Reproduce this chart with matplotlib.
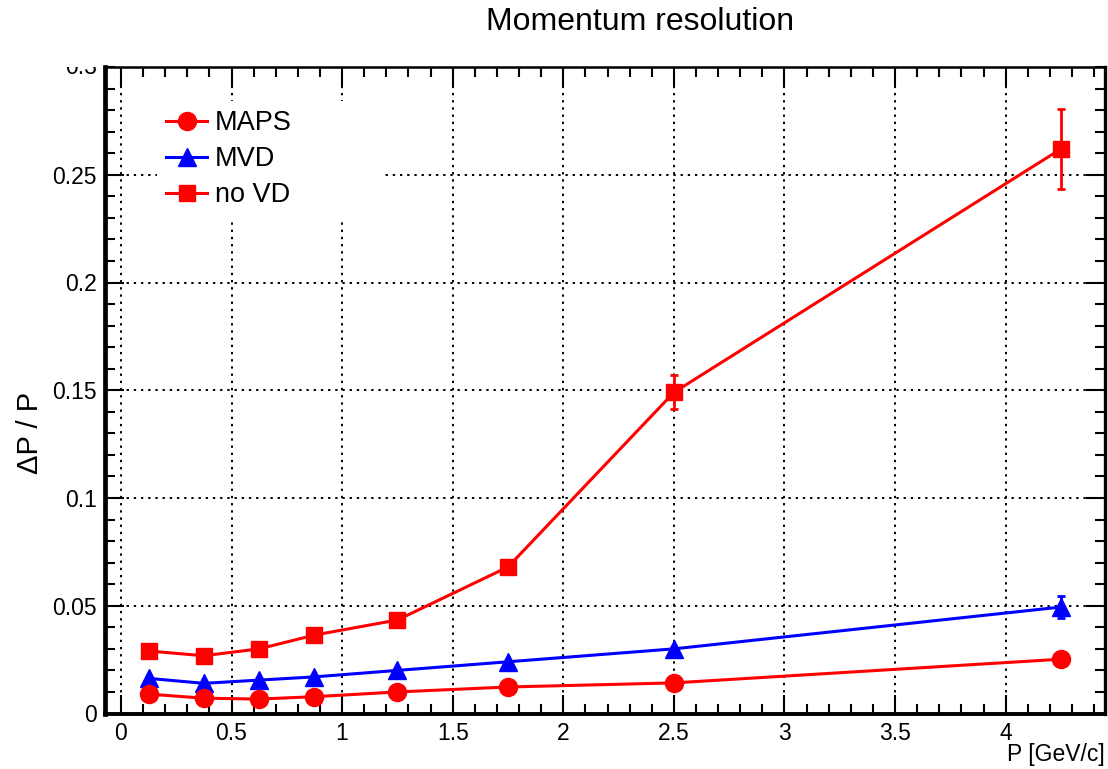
import matplotlib
matplotlib.use("Agg")
import matplotlib.pyplot as plt
from matplotlib.ticker import MultipleLocator, FuncFormatter
from matplotlib.transforms import Bbox, TransformedBbox

plt.rcParams['font.family'] = ['Liberation Sans', 'DejaVu Sans']

# ---- data ----
p_values = [0.125, 0.375, 0.625, 0.875, 1.25, 1.75, 2.5, 4.25]
maps_res = [0.0090, 0.0071, 0.0067, 0.0078, 0.0100, 0.0123, 0.0142, 0.0252]
maps_err = [0.0, 0.0, 0.0, 0.0, 0.0, 0.0, 0.0, 0.0005]
mvd_res = [0.0163, 0.0140, 0.0155, 0.0170, 0.0200, 0.0240, 0.0300, 0.0494]
mvd_err = [0.0, 0.0, 0.0, 0.0, 0.0, 0.0, 0.0005, 0.0050]
novd_res = [0.0290, 0.0268, 0.0300, 0.0364, 0.0434, 0.0680, 0.1490, 0.2620]
novd_err = [0.0005, 0.0005, 0.0005, 0.0005, 0.0008, 0.0012, 0.0079, 0.0187]
series_labels = ["MAPS", "MVD", "no VD"]

title_text = "Momentum resolution"
xlabel_text = "P [GeV/c]"
ylabel_text = "\u0394P / P"

W, H = 1108, 769
fig = plt.figure(figsize=(W / 100, H / 100), dpi=100)
ax = fig.add_axes([105 / W, 1 - 713.5 / H, 1000 / W, 646.5 / H])

ax.set_xlim(-0.072, 4.449)
ax.set_ylim(0, 0.3)

# grid
ax.set_axisbelow(True)
ax.grid(True, which='major', color='black', linestyle=(0, (1.2, 2.5)), linewidth=1.4)

common = dict(linewidth=2.2, elinewidth=2.0, capsize=3, capthick=2.0)
c1 = ax.errorbar(p_values, maps_res, yerr=maps_err, color='#ff0000', marker='o',
                 markersize=13, label=series_labels[0], zorder=5, **common)
c2 = ax.errorbar(p_values, mvd_res, yerr=mvd_err, color='#0000ff', marker='^',
                 markersize=13, label=series_labels[1], zorder=4, **common)
c3 = ax.errorbar(p_values, novd_res, yerr=novd_err, color='#ff0000', marker='s',
                 markersize=11, label=series_labels[2], zorder=3, **common)

# ticks
ax.xaxis.set_major_locator(MultipleLocator(0.5))
ax.xaxis.set_minor_locator(MultipleLocator(0.1))
ax.yaxis.set_minor_locator(MultipleLocator(0.01))
ax.set_yticks([0, 0.05, 0.1, 0.15, 0.2, 0.25])
fmt = FuncFormatter(lambda v, pos: "%g" % round(v, 4))
ax.xaxis.set_major_formatter(fmt)
ax.yaxis.set_major_formatter(fmt)
ax.tick_params(which='both', direction='in', top=True, right=True, width=1.5,
               colors='black', labelsize=16.5)
ax.tick_params(which='major', length=14, pad=6)
ax.tick_params(which='minor', length=7)
ax.spines['left'].set_linewidth(3.4)
ax.spines['bottom'].set_linewidth(2.8)
ax.spines['top'].set_linewidth(1.8)
ax.spines['right'].set_linewidth(2.4)

# top tick label 0.3, clipped at the frame top like the reference
t03 = fig.text(97 / W, 1 - 67 / H, "0.3", ha='right', va='center', fontsize=16.5)
t03.set_clip_box(TransformedBbox(Bbox([[0, 0], [1, 1 - 67 / H]]), fig.transFigure))
t03.set_clip_on(True)

# legend (markers + lines only, no error bars)
leg = ax.legend([c1[0], c2[0], c3[0]], series_labels, loc='upper left',
                bbox_to_anchor=(0.052, 0.948, 0.226, 0.0), mode='expand',
                fontsize=19.5,
                frameon=True, fancybox=False, framealpha=1, facecolor='white',
                edgecolor='none', handlelength=1.5, handletextpad=0.3,
                labelspacing=0.37, borderpad=0.35, borderaxespad=0)
leg.set_zorder(10)

fig.text(640 / W, 1 - 22 / H, title_text, ha='center', va='center', fontsize=23)
fig.text(1105 / W, 1 - 755 / H, xlabel_text, ha='right', va='center', fontsize=16.5)
fig.text(30 / W, 1 - 433 / H, ylabel_text, ha='center', va='center', rotation=90,
         fontsize=21)

fig.savefig("out.png", dpi=100)
